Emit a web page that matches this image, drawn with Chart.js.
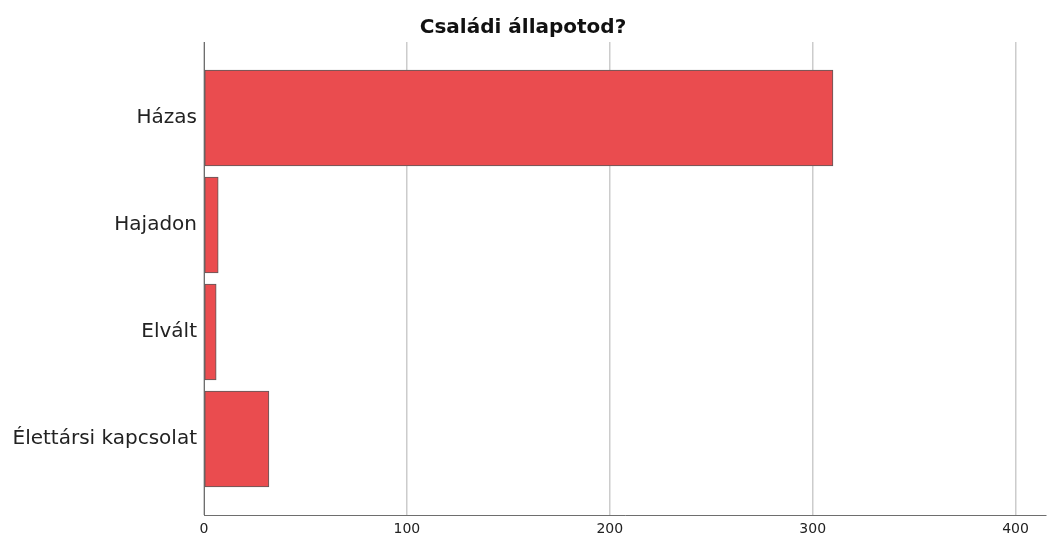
<!DOCTYPE html>
<html>
<head>
<meta charset="utf-8">
<script src="https://cdn.jsdelivr.net/npm/chart.js@4"></script>
<style>
  html, body { margin: 0; padding: 0; background: #fff; }
  #wrap { width: 1048px; height: 534px; }
</style>
</head>
<body>
<div id="wrap"><canvas id="myChart"></canvas></div>
<script>
// marital status answers
const categories = ["Házas", "Hajadon", "Elvált", "Élettársi kapcsolat"];
const counts = [310, 7, 6, 32];
const xTicks = [0, 100, 200, 300, 400];

const barColor = "rgb(234, 76, 79)";
const edgeColor = "rgb(90, 90, 90)";

const ctx = document.getElementById("myChart").getContext("2d");
const myChart = new Chart(ctx, {
  type: "bar",
  data: {
    datasets: [
      {
        label: "N",
        data: counts.map(function (v, i) {
          return { x: v, y: i };
        }),
        backgroundColor: barColor,
        borderColor: edgeColor,
        borderWidth: 1,
        borderSkipped: false,
        barThickness: 96,
      },
    ],
  },
  options: {
    indexAxis: "y",
    responsive: true,
    maintainAspectRatio: false,
    animation: false,
    layout: { padding: { left: 0, right: 2, top: 0, bottom: 0 } },
    plugins: {
      legend: false,
      tooltip: { enabled: false },
      title: {
        display: true,
        text: "Családi állapotod?",
        color: "#111",
        font: { family: "DejaVu Sans", size: 20, weight: "bold", lineHeight: 1.2 },
        padding: { top: 16, bottom: 2 },
      },
    },
    scales: {
      x: {
        type: "linear",
        min: 0,
        max: 415,
        afterBuildTicks: function (axis) {
          axis.ticks = xTicks.map(function (v) {
            return { value: v };
          });
        },
        afterFit: function (axis) {
          axis.height = 19;
        },
        grid: {
          color: "#cccccc",
          lineWidth: 1.5,
          drawTicks: false,
        },
        border: { display: true, color: "#6e6e6e", width: 1 },
        ticks: {
          padding: 6,
          color: "#222",
          font: { family: "DejaVu Sans", size: 14 },
        },
      },
      y: {
        type: "linear",
        reverse: true,
        offset: false,
        min: -0.71,
        max: categories.length - 1 + 0.71,
        afterBuildTicks: function (axis) {
          axis.ticks = categories.map(function (c, i) {
            return { value: i };
          });
        },
        afterFit: function (axis) {
          axis.width = 204;
        },
        grid: { display: false, drawTicks: false, offset: false },
        border: { display: true, color: "#6e6e6e", width: 1 },
        ticks: {
          padding: 7,
          color: "#222",
          font: { family: "DejaVu Sans", size: 20 },
          callback: function (value) {
            return categories[value];
          },
        },
      },
    },
  },
});
</script>
</body>
</html>
